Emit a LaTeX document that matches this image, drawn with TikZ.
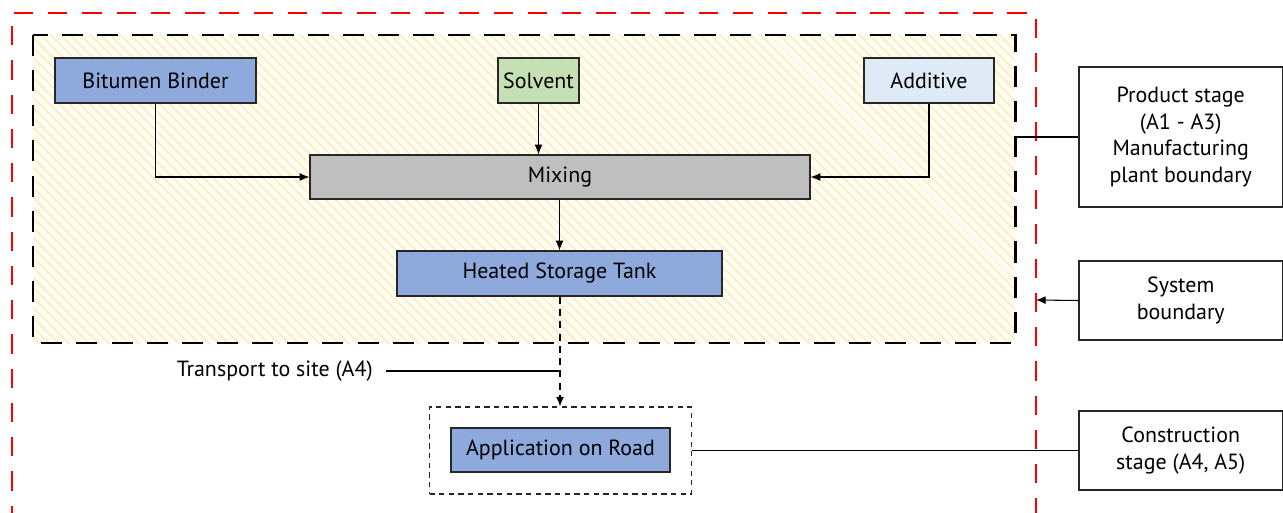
\documentclass[tikz,border=0pt]{standalone}
\usepackage{fontspec}
\setmainfont{PT Sans}
\usetikzlibrary{arrows.meta,patterns.meta,positioning}
\definecolor{blueF}{HTML}{8EA9DB}
\definecolor{greenF}{HTML}{C5E0B4}
\definecolor{lblueF}{HTML}{DEEBF7}
\definecolor{grayF}{HTML}{BFBFBF}
\definecolor{hatchC}{HTML}{FFEBB0}
\definecolor{hatchBG}{HTML}{FFFDF4}
\definecolor{redD}{HTML}{FF0000}
\def\pxu{0.02cm}
\tikzset{
  proc/.style={draw=black!85, line width=0.75pt, font=\fontsize{12.5}{14}\selectfont, inner sep=0pt, align=center},
  sidebox/.style={draw=black!85, line width=0.75pt, fill=white, font=\fontsize{12.5}{15}\selectfont, inner sep=0pt, align=center},
  conn/.style={draw=black, line width=0.6pt},
  arr/.style={conn, -{Latex[length=5.5pt,width=4.5pt]}},
}
\begin{document}
\begin{tikzpicture}[x=0.02cm,y=-0.02cm]
\useasboundingbox (0,0) rectangle (1283,513);
\fill[white] (0,0) rectangle (1283,513);
% manufacturing plant boundary (hatched)
\fill[hatchBG] (33,35) rectangle (1015,343);
\fill[pattern={Lines[angle=-45,distance=4pt,line width=0.7pt]}, pattern color=hatchC] (33,35) rectangle (1015,343);
\draw[black, line width=1.7pt, dash pattern=on 12pt off 8pt] (33,35) rectangle (1015,343);
\coordinate (plantE) at (1015,137);
% system boundary (red)
\draw[redD, line width=1.4pt, dash pattern=on 11pt off 8.5pt] (12,525) -- (12,13) -- (1036,13) -- (1036,525);
\coordinate (sysE) at (1036,300);

% process nodes
\node[proc, fill=blueF, minimum width=201*\pxu, minimum height=45*\pxu] (bb) at (155.5,80.5) {Bitumen Binder};
\node[proc, fill=greenF, minimum width=81*\pxu, minimum height=45*\pxu] (sol) at (538.5,80.5) {Solvent};
\node[proc, fill=lblueF, minimum width=130*\pxu, minimum height=45*\pxu] (add) at (929,80.5) {Additive};
\node[proc, fill=grayF, minimum width=500*\pxu, minimum height=44*\pxu] (mix) at (560,177) {Mixing};
\node[proc, fill=blueF, minimum width=325*\pxu, minimum height=45*\pxu] (tank) at (559.5,273.5) {Heated Storage Tank};
\node[draw=black!85, line width=0.6pt, dash pattern=on 3pt off 2.5pt, minimum width=262*\pxu, minimum height=87*\pxu, inner sep=0pt] (site) at (560.5,450.5) {};
\node[proc, fill=blueF, minimum width=219*\pxu, minimum height=44*\pxu] (road) at (560.5,450) {Application on Road};

% arrows
\draw[arr] (bb.south) |- (mix.west);
\draw[arr] (sol.south) -- (sol.south |- mix.north);
\draw[arr] (add.south) |- (mix.east);
\draw[arr] (mix.south -| tank.north) -- (tank.north);
\draw[arr, dash pattern=on 4pt off 3pt] (tank.south -| 560,0) -- (site.north -| 560,0);

% transport label
\node[font=\fontsize{12.5}{14}\selectfont, anchor=east, inner sep=0pt] (tr) at (373,371) {Transport to site (A4)};
\coordinate (trE) at (560,371);
\draw[conn] ([xshift=13*\pxu]tr.east) -- (trE);

% side boxes
\node[sidebox, minimum width=203.5*\pxu, minimum height=140*\pxu] (ps) at (1180.75,137) {Product stage\\(A1 - A3)\\Manufacturing\\plant boundary};
\node[sidebox, minimum width=203.5*\pxu, minimum height=79*\pxu] (sb) at (1180.75,300.5) {System\\boundary};
\node[sidebox, minimum width=203.5*\pxu, minimum height=79*\pxu] (cs) at (1180.75,450.5) {Construction\\stage (A4, A5)};

\draw[conn] (plantE) -- (ps.west);
\draw[arr] (sb.west) -- (sysE);
\draw[conn] (site.east) -- (cs.west);
\end{tikzpicture}
\end{document}
